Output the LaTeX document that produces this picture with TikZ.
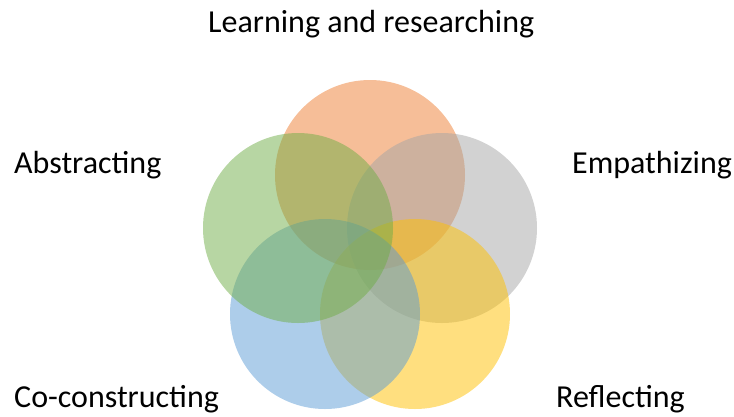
\documentclass[tikz,border=0pt]{standalone}
\usepackage{fontspec}
\setmainfont{Carlito}
\usetikzlibrary{positioning}

\definecolor{petalorange}{HTML}{ED7D31}
\definecolor{petalgray}{HTML}{A5A5A5}
\definecolor{petalgreen}{HTML}{70AD47}
\definecolor{petalblue}{HTML}{5B9BD5}
\definecolor{petalyellow}{HTML}{FFC000}

\begin{document}
\begin{tikzpicture}[x=1pt, y=-1pt,
    petal/.style={circle, minimum size=190pt, inner sep=0pt, fill opacity=0.5},
    label/.style={anchor=base west, inner sep=0pt, font=\fontsize{32}{38}\selectfont}]
    \useasboundingbox (0,0) rectangle (734,416);

    % Circles (drawn bottom to top)
    \node[petal, fill=petalorange] (learn) at (370,175) {};
    \node[petal, fill=petalgray] (empath) at (442,228) {};
    \node[petal, fill=petalyellow] (reflect) at (415,314) {};
    \node[petal, fill=petalblue] (coconst) at (325,314) {};
    \node[petal, fill=petalgreen] (abstr) at (298,228) {};

    % Labels
    \node[label] (tlearn) at (208,32) {Learning and researching};
    \node[label] (tabstr) at (14,173) {Abstracting};
    \node[label] (tempath) at (572,173) {Empathizing};
    \node[label] (tcoconst) at (14,407) {Co-constructing};
    \node[label] (treflect) at (556,407) {Reflecting};

\end{tikzpicture}
\end{document}
